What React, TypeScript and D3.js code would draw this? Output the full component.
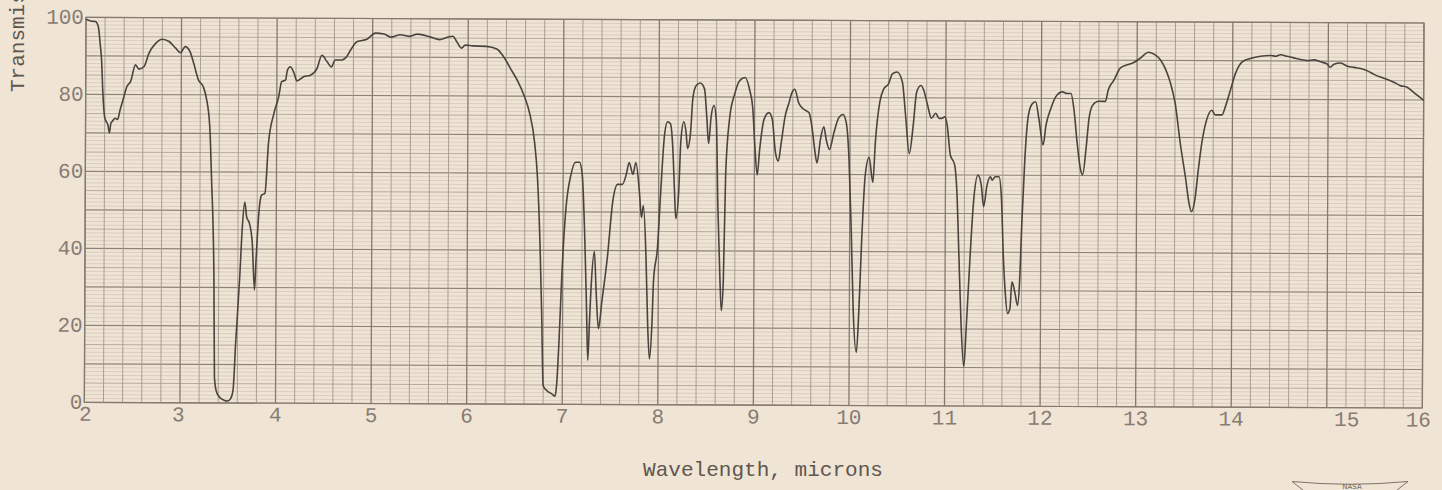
import React from 'react';
import * as d3 from 'd3';

// Wavelength (microns) and percent transmission
const wavelength = [
  2.00, 2.06, 2.10, 2.13, 2.15, 2.165, 2.18, 2.20, 2.215, 2.235, 2.25, 2.265, 2.28, 2.31, 2.335, 2.36, 2.40, 2.43, 2.47, 2.52,
  2.555, 2.61, 2.66, 2.73, 2.80, 2.87, 2.94, 2.99, 3.04, 3.09, 3.13, 3.18, 3.23, 3.26, 3.30, 3.32, 3.35, 3.36, 3.38, 3.41,
  3.46, 3.50, 3.53, 3.555, 3.58, 3.62, 3.645, 3.67, 3.69, 3.72, 3.75, 3.775, 3.79, 3.82, 3.845, 3.88, 3.915, 3.97, 4.02, 4.05,
  4.09, 4.11, 4.14, 4.18, 4.21, 4.28, 4.35, 4.42, 4.47, 4.525, 4.57, 4.61, 4.68, 4.73, 4.77, 4.84, 4.94, 5.03, 5.12, 5.19,
  5.29, 5.38, 5.47, 5.60, 5.70, 5.79, 5.84, 5.88, 5.93, 5.97, 6.05, 6.19, 6.30, 6.38, 6.45, 6.52, 6.59, 6.645, 6.70, 6.73,
  6.76, 6.78, 6.80, 6.84, 6.89, 6.925, 6.94, 6.97, 6.99, 7.03, 7.08, 7.13, 7.17, 7.20, 7.23, 7.25, 7.265, 7.28, 7.30, 7.33,
  7.35, 7.375, 7.41, 7.465, 7.52, 7.57, 7.62, 7.66, 7.69, 7.73, 7.76, 7.80, 7.82, 7.84, 7.87, 7.89, 7.91, 7.935, 7.95, 7.99,
  8.02, 8.06, 8.09, 8.12, 8.145, 8.165, 8.18, 8.21, 8.23, 8.26, 8.285, 8.30, 8.33, 8.355, 8.39, 8.43, 8.475, 8.50, 8.52, 8.545,
  8.575, 8.60, 8.62, 8.645, 8.66, 8.68, 8.70, 8.74, 8.79, 8.84, 8.90, 8.95, 8.98, 9.005, 9.03, 9.055, 9.10, 9.15, 9.185, 9.22,
  9.25, 9.28, 9.32, 9.36, 9.39, 9.42, 9.46, 9.515, 9.57, 9.60, 9.63, 9.655, 9.69, 9.725, 9.75, 9.785, 9.83, 9.88, 9.925, 9.96,
  9.99, 10.015, 10.04, 10.075, 10.10, 10.125, 10.16, 10.20, 10.24, 10.265, 10.31, 10.35, 10.40, 10.44, 10.49, 10.545, 10.58, 10.62, 10.66, 10.695,
  10.74, 10.77, 10.81, 10.85, 10.895, 10.93, 10.96, 10.99, 11.015, 11.05, 11.095, 11.12, 11.145, 11.17, 11.20, 11.225, 11.26, 11.295, 11.34, 11.375,
  11.40, 11.435, 11.47, 11.49, 11.52, 11.56, 11.585, 11.61, 11.63, 11.655, 11.68, 11.70, 11.73, 11.76, 11.78, 11.80, 11.83, 11.865, 11.905, 11.94,
  11.975, 12.02, 12.05, 12.10, 12.15, 12.22, 12.27, 12.31, 12.34, 12.375, 12.41, 12.435, 12.47, 12.50, 12.54, 12.60, 12.67, 12.70, 12.76, 12.826,
  12.896, 12.965, 13.035, 13.12, 13.19, 13.245, 13.30, 13.35, 13.40, 13.455, 13.51, 13.55, 13.575, 13.61, 13.645, 13.68, 13.73, 13.785, 13.82, 13.89,
  13.925, 13.977, 14.03, 14.10, 14.186, 14.29, 14.40, 14.45, 14.50, 14.57, 14.64, 14.71, 14.78, 14.85, 14.92, 14.99, 15.02, 15.06, 15.13, 15.20,
  15.27, 15.34, 15.41, 15.48, 15.547, 15.62, 15.686, 15.756, 15.826, 15.895, 15.95, 16.00,
];

const transmission = [
  99.5, 99.0, 98.9, 97.5, 93.0, 88.9, 80.3, 74.0, 73.0, 72.0, 70.0, 72.5, 73.0, 73.8, 73.5, 75.9, 79.4, 82.0, 83.4, 87.7,
  86.6, 87.3, 90.7, 93.3, 94.4, 93.8, 92.1, 90.9, 92.5, 91.2, 88.1, 83.8, 82.1, 79.5, 71.7, 58.7, 32.7, 6.6, 3.0, 1.6,
  0.7, 0.5, 1.1, 3.3, 15.4, 32.7, 45.7, 52.2, 48.3, 46.6, 41.5, 29.4, 37.2, 50.2, 54.0, 54.5, 67.5, 75.2, 79.6, 83.5,
  83.9, 86.5, 87.4, 85.7, 83.7, 84.8, 85.2, 87.0, 90.4, 88.7, 87.4, 89.2, 89.2, 90.1, 91.8, 94.0, 94.6, 96.2, 96.0, 95.2,
  95.8, 95.4, 96.0, 95.3, 94.6, 95.3, 95.5, 94.1, 92.4, 93.2, 93.0, 92.9, 92.2, 89.9, 86.9, 83.9, 80.0, 75.7, 67.9, 59.3,
  42.0, 24.6, 4.8, 3.5, 2.7, 2.1, 4.9, 20.4, 33.4, 50.8, 59.5, 62.9, 62.9, 59.5, 42.2, 24.9, 11.5, 20.6, 31.9, 39.7,
  29.3, 19.7, 26.7, 38.0, 52.8, 57.2, 57.2, 59.8, 62.9, 59.8, 62.9, 54.7, 48.6, 51.7, 38.3, 21.0, 11.9, 21.0, 32.3, 40.9,
  54.8, 70.4, 73.5, 73.0, 67.0, 55.7, 48.4, 55.7, 68.7, 73.5, 70.5, 66.6, 70.5, 80.0, 83.0, 83.6, 82.1, 74.8, 67.9, 74.8,
  77.8, 73.9, 51.3, 32.3, 24.5, 32.3, 60.0, 74.7, 80.7, 84.2, 85.1, 81.6, 77.3, 67.0, 59.8, 66.5, 74.3, 76.0, 74.3, 65.6,
  63.4, 68.2, 75.1, 78.6, 81.2, 82.1, 78.6, 76.9, 76.0, 72.5, 66.5, 63.0, 69.1, 72.4, 69.1, 66.5, 70.8, 74.7, 75.6, 73.4,
  63.9, 46.6, 25.0, 13.8, 25.0, 42.3, 59.7, 64.5, 58.0, 68.5, 78.9, 82.3, 83.6, 86.2, 86.7, 84.1, 75.4, 65.5, 72.8, 81.5,
  83.2, 81.9, 78.1, 74.7, 76.0, 74.7, 74.7, 75.1, 73.0, 65.2, 62.7, 55.7, 38.4, 21.0, 10.2, 21.0, 38.4, 53.1, 60.0, 57.4,
  51.8, 57.4, 59.6, 58.7, 59.6, 59.6, 54.8, 38.3, 29.7, 24.1, 25.4, 32.3, 29.7, 26.2, 32.3, 47.0, 64.4, 75.6, 78.6, 79.1,
  74.7, 67.9, 73.1, 77.4, 80.4, 81.7, 81.3, 81.3, 77.4, 68.8, 61.9, 60.2, 67.1, 74.9, 78.4, 79.3, 79.3, 82.3, 84.9, 88.0,
  88.8, 89.4, 90.6, 92.1, 91.4, 90.1, 87.6, 84.1, 78.9, 68.5, 59.8, 52.9, 50.7, 53.8, 61.6, 68.5, 74.6, 77.1, 75.9, 75.9,
  78.0, 82.3, 86.7, 89.7, 90.6, 91.2, 91.4, 91.2, 91.6, 91.2, 90.8, 90.4, 90.1, 90.3, 89.8, 89.2, 88.4, 89.2, 89.5, 88.7,
  88.4, 88.1, 87.5, 86.6, 85.9, 85.3, 84.6, 83.7, 83.3, 82.0, 80.9, 79.9,
];

const xTickLabels = ['2', '3', '4', '5', '6', '7', '8', '9', '10', '11', '12', '13', '14', '15', '16'];
const yTickLabels = ['0', '20', '40', '60', '80', '100'];
const xTitle = 'Wavelength, microns';
const yTitle = 'Transmission, percent';

export default function App() {
  const W = 1442;
  const H = 490;
  const left = 86;
  const right = 1424;
  const top = 17.3;
  const bottom = 402.3;

  const x = d3.scaleLinear().domain([2, 16]).range([left, right]);
  const y = d3.scaleLinear().domain([0, 100]).range([bottom, top]);

  const pts: [number, number][] = wavelength.map((w, i) => [w, transmission[i]]);
  const line = d3
    .line<[number, number]>()
    .x((d) => x(d[0]))
    .y((d) => y(d[1]))
    .curve(d3.curveMonotoneX);
  const pathD = line(pts) || '';

  const vLines = d3.range(0, 71).map((i) => 2 + i * 0.2);
  const hLines = d3.range(0, 101);

  const labelDx: Record<string, number> = { '2': 1, '3': -1.5, '15': 20, '16': -4 };

  const paper = '#f0e4d5';
  const tickFont = '"Liberation Mono", "DejaVu Sans Mono", monospace';

  return (
    <svg
      width={W}
      height={H}
      viewBox={`0 0 ${W} ${H}`}
      style={{ position: 'absolute', left: 0, top: 0, display: 'block' }}
    >
      <rect x={0} y={0} width={W} height={H} fill={paper} />
      <g transform={`rotate(0.244 ${left} ${top})`}>
        {hLines.map((p) => {
          const major = p % 10 === 0;
          const mid = p % 5 === 0;
          return (
            <line
              key={'h' + p}
              x1={left}
              x2={right}
              y1={y(p)}
              y2={y(p)}
              stroke={major ? '#8e8379' : mid ? '#b0a499' : '#d0c4b7'}
              strokeWidth={major ? 1.2 : mid ? 0.9 : 0.7}
            />
          );
        })}
        {vLines.map((v, i) => {
          const major = i % 5 === 0;
          return (
            <line
              key={'v' + i}
              x1={x(v)}
              x2={x(v)}
              y1={top}
              y2={bottom}
              stroke={major ? '#857a70' : '#a3978c'}
              strokeWidth={major ? 1.3 : 0.9}
            />
          );
        })}
        <rect x={left} y={top} width={right - left} height={bottom - top} fill="none" stroke="#857a70" strokeWidth={1.2} />
        <path d={pathD} fill="none" stroke="#4a443f" strokeWidth={1.6} strokeLinejoin="round" />
        {yTickLabels.map((t) => (
          <text
            key={'yt' + t}
            x={left - 2}
            y={y(+t) + 6.5}
            textAnchor="end"
            fontFamily={tickFont}
            fontSize={21}
            fill="#877c73"
          >
            {t}
          </text>
        ))}
        {xTickLabels.map((t) => (
          <text
            key={'xt' + t}
            x={x(+t) + (labelDx[t] || 0)}
            y={bottom + 18.5}
            textAnchor="middle"
            fontFamily={tickFont}
            fontSize={21}
            fill="#877c73"
          >
            {t}
          </text>
        ))}
      </g>
      <text
        x={763}
        y={476}
        textAnchor="middle"
        fontFamily={tickFont}
        fontSize={21}
        fill="#5e564f"
        textLength={240}
        lengthAdjust="spacingAndGlyphs"
      >
        {xTitle}
      </text>
      <text
        transform="translate(24,92) rotate(-90)"
        textAnchor="start"
        fontFamily={tickFont}
        fontSize={21}
        fill="#5e564f"
      >
        {yTitle}
      </text>
      <g fill="none" stroke="#7d736a" strokeWidth={1}>
        <path d="M1292,481.5 Q1350,487 1408,481.5" />
        <path d="M1292,481.5 L1303,490" />
        <path d="M1408,481.5 L1397,490" />
      </g>
      <text x={1352} y={489} textAnchor="middle" fontFamily="'DejaVu Sans', sans-serif" fontSize={7} fill="#6f665e">
        NASA
      </text>
    </svg>
  );
}
